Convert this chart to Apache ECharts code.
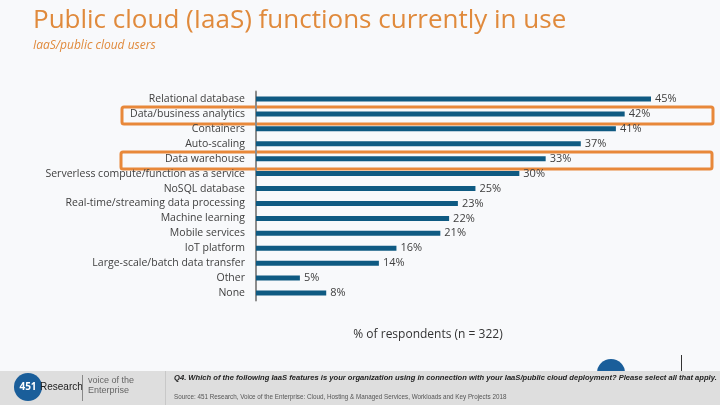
<!DOCTYPE html>
<html><head><meta charset="utf-8">
<script src="https://cdn.jsdelivr.net/npm/echarts@6/dist/echarts.min.js"></script>
<style>html,body{margin:0;padding:0;background:#f8f9fb}#c{width:720px;height:405px}</style>
</head><body><div id="c"></div>
<script>
const categories = ["Relational database","Data/business analytics","Containers","Auto-scaling","Data warehouse","Serverless compute/function as a service","NoSQL database","Real-time/streaming data processing","Machine learning","Mobile services","IoT platform","Large-scale/batch data transfer","Other","None"];
const values = [45,42,41,37,33,30,25,23,22,21,16,14,5,8];
const titleText = "Public cloud (IaaS) functions currently in use";
const subtitleText = "IaaS/public cloud users";
const axisTitle = "% of respondents (n = 322)";
const questionText = "Q4. Which of the following IaaS features is your organization using in connection with your IaaS/public cloud deployment? Please select all that apply.";
const sourceText = "Source: 451 Research, Voice of the Enterprise: Cloud, Hosting & Managed Services, Workloads and Key Projects 2018";

const chart = echarts.init(document.getElementById('c'));
const orange = '#E8883A';
chart.setOption({
  backgroundColor: '#f8f9fb',
  animation: false,
  title: [
    {text: titleText, left: 28, top: 3, padding: 5, textStyle: {fontFamily: 'Open Sans', fontWeight: 'normal', fontSize: 26, color: '#E08A3C'}},
    {text: subtitleText, left: 28, top: 35, padding: 5, textStyle: {fontFamily: 'Open Sans', fontStyle: 'italic', fontWeight: 'normal', fontSize: 12, color: '#E08A3C'}},
    {text: axisTitle, left: 423, top: 324, textAlign: 'center', textStyle: {fontFamily: 'Open Sans', fontWeight: 'normal', fontSize: 12, color: '#333'}}
  ],
  grid: {left: 256, top: 91.5, width: 395, height: 209, containLabel: false},
  xAxis: {type: 'value', min: 0, max: 45, show: false},
  yAxis: {
    type: 'category', data: categories, inverse: true,
    axisLine: {show: true, lineStyle: {color: '#8c8c8c', width: 2}},
    axisTick: {show: false},
    axisLabel: {fontFamily: 'Open Sans', fontSize: 10.5, color: '#404040', margin: 11}
  },
  series: [{
    type: 'bar', data: values, barWidth: 5,
    itemStyle: {color: '#0F5A82'},
    label: {show: true, position: 'right', distance: 4, formatter: '{c}%', fontFamily: 'Open Sans', fontSize: 11, color: '#404040'}
  }],
  graphic: [
    {type: 'rect', shape: {x: 122, y: 107, width: 591, height: 17, r: 2}, style: {fill: 'none', stroke: orange, lineWidth: 3}},
    {type: 'rect', shape: {x: 121, y: 152, width: 591, height: 17, r: 2}, style: {fill: 'none', stroke: orange, lineWidth: 3}},
    {type: 'rect', shape: {x: 0, y: 371, width: 720, height: 34}, style: {fill: '#dedede'}},
    {type: 'circle', shape: {cx: 28, cy: 387, r: 14}, style: {fill: '#1A5E9A'}},
    {type: 'text', style: {x: 28, y: 387, text: '451', fill: '#fff', font: 'bold 10px Open Sans', textAlign: 'center', textVerticalAlign: 'middle'}},
    {type: 'text', style: {x: 40, y: 387, text: 'Research', fill: '#222', font: '10px Liberation Sans', textVerticalAlign: 'middle'}},
    {type: 'rect', shape: {x: 82, y: 375, width: 1, height: 26}, style: {fill: '#888'}},
    {type: 'text', style: {x: 88, y: 376, text: 'voice of the\nEnterprise', fill: '#666', font: '9px Liberation Sans', lineHeight: 10}},
    {type: 'rect', shape: {x: 165, y: 371, width: 1, height: 34}, style: {fill: '#c8c8c8'}},
    {type: 'text', style: {x: 174, y: 378, text: questionText, fill: '#222', font: 'italic bold 7.6px Liberation Sans', textVerticalAlign: 'middle'}},
    {type: 'text', style: {x: 174, y: 397, text: sourceText, fill: '#555', font: '6.3px Liberation Sans', textVerticalAlign: 'middle'}},
    {type: 'circle', shape: {cx: 611, cy: 373, r: 14}, style: {fill: '#1A5E9A'}, z: -1},
    {type: 'rect', shape: {x: 681, y: 355, width: 1, height: 16}, style: {fill: '#333'}}
  ]
});
</script></body></html>
